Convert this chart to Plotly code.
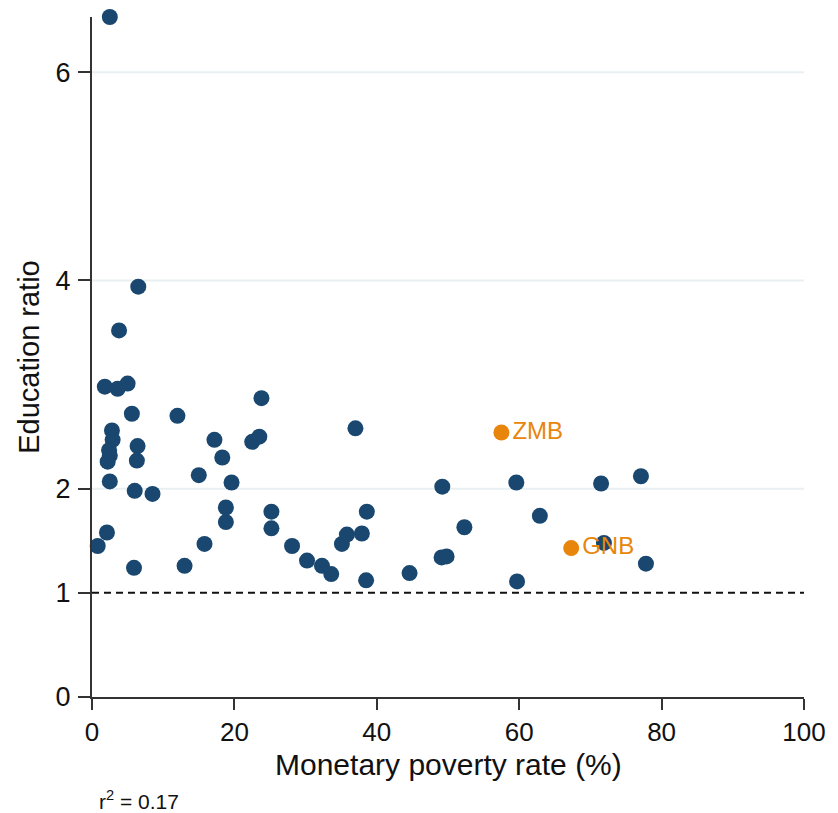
import plotly.graph_objects as go

# Monetary poverty rate (%) and education ratio, one entry per country
poverty_rate = [
    2.5, 6.5, 3.8, 1.8, 3.6, 5.0, 5.6, 12.0, 23.8, 37.0,
    2.8, 2.9, 2.4, 2.5, 2.2, 2.5, 6.4, 6.3, 6.0, 8.5,
    17.2, 18.3, 15.0, 19.6, 18.8, 18.8, 22.5, 23.5, 25.2, 25.2,
    15.8, 13.0, 0.8, 2.1, 5.9, 28.1, 30.2, 32.3, 33.6, 35.1,
    35.8, 37.9, 38.6, 38.5, 49.2, 59.6, 71.5, 77.1, 62.9, 52.3,
    49.1, 49.8, 44.6, 59.7, 71.9, 77.8,
]
education_ratio = [
    6.53, 3.94, 3.52, 2.98, 2.96, 3.01, 2.72, 2.70, 2.87, 2.58,
    2.56, 2.47, 2.37, 2.32, 2.26, 2.07, 2.41, 2.27, 1.98, 1.95,
    2.47, 2.30, 2.13, 2.06, 1.82, 1.68, 2.45, 2.50, 1.78, 1.62,
    1.47, 1.26, 1.45, 1.58, 1.24, 1.45, 1.31, 1.26, 1.18, 1.47,
    1.56, 1.57, 1.78, 1.12, 2.02, 2.06, 2.05, 2.12, 1.74, 1.63,
    1.34, 1.35, 1.19, 1.11, 1.48, 1.28,
]

# Highlighted countries
hl_codes = ["ZMB", "GNB"]
hl_poverty = [57.5, 67.3]
hl_ratio = [2.54, 1.43]

x_ticks = [0, 20, 40, 60, 80, 100]
y_ticks = [0, 1, 2, 4, 6]
grid_y = [2, 4, 6]
parity_line = 1
r_squared = 0.17

NAVY = "#1a476f"
ORANGE = "#e8860c"
FONT = "Liberation Sans, Arial, sans-serif"
AXIS = "#333333"

fig = go.Figure()

fig.add_trace(go.Scatter(
    x=poverty_rate, y=education_ratio, mode="markers",
    marker=dict(color=NAVY, size=16, line=dict(width=0)),
    cliponaxis=False, showlegend=False,
))
fig.add_trace(go.Scatter(
    x=hl_poverty, y=hl_ratio, mode="markers+text",
    text=hl_codes, textposition="middle right",
    textfont=dict(color=ORANGE, size=24, family=FONT),
    marker=dict(color=ORANGE, size=16, line=dict(width=0)),
    cliponaxis=False, showlegend=False,
))

shapes = []
for g in grid_y:
    shapes.append(dict(type="line", xref="paper", x0=0, x1=1, yref="y", y0=g, y1=g,
                       line=dict(color="#e8f0f2", width=2), layer="below"))
shapes.append(dict(type="line", xref="paper", x0=0, x1=1, yref="y",
                   y0=parity_line, y1=parity_line,
                   line=dict(color="#111111", width=2, dash="7px,5px"), layer="below"))

fig.update_layout(
    width=838, height=813,
    margin=dict(l=92, r=24, t=17, b=116),
    paper_bgcolor="white", plot_bgcolor="white",
    font=dict(family=FONT, color="#111111", size=26),
    shapes=shapes,
    annotations=[
        dict(text="Monetary poverty rate (%)", xref="paper", yref="paper",
             x=0.5, y=-0.099, xanchor="center", yanchor="middle", showarrow=False,
             font=dict(size=30, family=FONT, color="#111111")),
        dict(text=f"r<sup>2</sup> = {r_squared:.2f}", xref="paper", yref="paper",
             x=0.007, y=-0.152, xanchor="left", yanchor="middle", showarrow=False,
             font=dict(size=21, family=FONT, color="#111111")),
    ],
)
fig.update_xaxes(
    range=[0, 100], tickvals=x_ticks, showgrid=False, zeroline=False,
    showline=True, linecolor=AXIS, linewidth=2,
    ticks="outside", ticklen=11, tickwidth=1.5, tickcolor=AXIS,
    tickfont=dict(size=26), ticklabelstandoff=0,
)
fig.update_yaxes(
    range=[0, 6.53], tickvals=y_ticks, showgrid=False, zeroline=False,
    showline=True, linecolor=AXIS, linewidth=2,
    ticks="outside", ticklen=12, tickwidth=1.5, tickcolor=AXIS,
    tickfont=dict(size=27), ticklabelstandoff=2,
    title=dict(text="Education ratio", font=dict(size=29), standoff=7),
)

fig.write_html("out.html")
